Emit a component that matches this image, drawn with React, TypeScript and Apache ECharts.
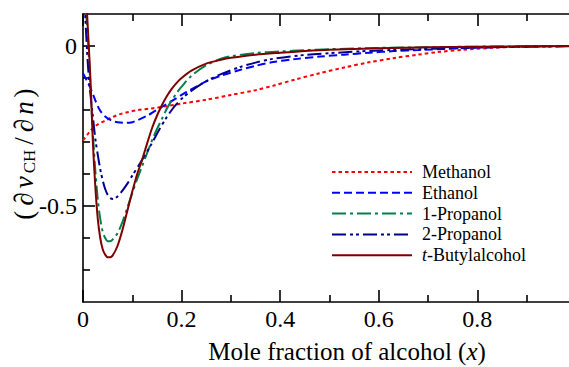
import React, { useEffect, useRef } from "react";
import * as echarts from "echarts";

const FONT = "Liberation Serif";

const seriesNames = ["Methanol", "Ethanol", "1-Propanol", "2-Propanol", "t-Butylalcohol"];

const methanolX = [0, 0.005, 0.01, 0.015, 0.02, 0.03, 0.045, 0.06, 0.075, 0.09, 0.112, 0.14, 0.17, 0.2, 0.25, 0.3, 0.35, 0.386, 0.43, 0.48, 0.53, 0.58, 0.63, 0.68, 0.72, 0.77, 0.84, 0.9, 0.986];
const methanolY = [-0.295, -0.285, -0.275, -0.265, -0.257, -0.245, -0.233, -0.222, -0.213, -0.207, -0.2, -0.195, -0.188, -0.18, -0.168, -0.153, -0.138, -0.124, -0.105, -0.085, -0.067, -0.051, -0.038, -0.027, -0.019, -0.012, -0.005, -0.002, 0];

const ethanolX = [0, 0.005, 0.01, 0.014, 0.02, 0.025, 0.034, 0.045, 0.058, 0.07, 0.089, 0.1, 0.112, 0.13, 0.149, 0.166, 0.183, 0.2, 0.217, 0.251, 0.28, 0.318, 0.35, 0.386, 0.43, 0.481, 0.53, 0.582, 0.63, 0.684, 0.75, 0.8, 0.9, 0.986];
const ethanolY = [-0.085, -0.1, -0.115, -0.128, -0.15, -0.17, -0.2, -0.22, -0.233, -0.238, -0.24, -0.238, -0.231, -0.218, -0.2, -0.185, -0.169, -0.153, -0.1375, -0.11, -0.093, -0.075, -0.062, -0.05, -0.041, -0.033, -0.027, -0.021, -0.016, -0.0125, -0.008, -0.005, -0.002, 0];

const propanol1X = [0, 0.005, 0.01, 0.015, 0.02, 0.025, 0.03, 0.035, 0.04, 0.045, 0.05, 0.055, 0.06, 0.07, 0.08, 0.09, 0.1, 0.11, 0.12, 0.13, 0.14, 0.15, 0.16, 0.17, 0.18, 0.19, 0.2, 0.22, 0.25, 0.28, 0.3, 0.35, 0.4, 0.45, 0.5, 0.6, 0.7, 0.8, 0.9, 0.986];
const propanol1Y = [0.5, 0.15, 0.02, -0.12, -0.27, -0.39, -0.48, -0.54, -0.58, -0.6, -0.61, -0.61, -0.605, -0.585, -0.55, -0.505, -0.46, -0.415, -0.375, -0.335, -0.295, -0.26, -0.228, -0.196, -0.17, -0.147, -0.127, -0.093, -0.06, -0.04, -0.032, -0.022, -0.017, -0.013, -0.01, -0.006, -0.004, -0.002, -0.001, 0];

const propanol2X = [0, 0.005, 0.01, 0.015, 0.02, 0.025, 0.03, 0.035, 0.04, 0.045, 0.05, 0.055, 0.061, 0.07, 0.08, 0.09, 0.1, 0.116, 0.13, 0.14, 0.156, 0.17, 0.18, 0.19, 0.2, 0.217, 0.25, 0.28, 0.318, 0.35, 0.386, 0.45, 0.515, 0.6, 0.684, 0.8, 0.9, 0.986];
const propanol2Y = [0.25, 0.08, -0.06, -0.15, -0.22, -0.29, -0.34, -0.385, -0.42, -0.447, -0.465, -0.475, -0.478, -0.47, -0.452, -0.43, -0.405, -0.366, -0.33, -0.303, -0.258, -0.222, -0.2, -0.181, -0.165, -0.143, -0.11, -0.088, -0.066, -0.052, -0.04, -0.028, -0.021, -0.014, -0.01, -0.005, -0.002, -0.001];

const butylX = [0, 0.005, 0.01, 0.015, 0.02, 0.025, 0.03, 0.035, 0.04, 0.045, 0.05, 0.055, 0.06, 0.07, 0.08, 0.09, 0.1, 0.11, 0.12, 0.13, 0.14, 0.15, 0.16, 0.17, 0.18, 0.19, 0.2, 0.22, 0.25, 0.28, 0.3, 0.35, 0.4, 0.45, 0.5, 0.6, 0.7, 0.8, 0.9, 0.986];
const butylY = [0.45, 0.2, 0.05, -0.1, -0.3, -0.44, -0.54, -0.6, -0.635, -0.652, -0.66, -0.66, -0.655, -0.625, -0.575, -0.515, -0.455, -0.4, -0.355, -0.305, -0.257, -0.218, -0.185, -0.157, -0.134, -0.115, -0.1, -0.077, -0.055, -0.043, -0.037, -0.027, -0.021, -0.016, -0.012, -0.007, -0.004, -0.002, -0.001, 0];

const xMajorTicks = [0, 0.2, 0.4, 0.6, 0.8];
const xMinorTicks = [0.1, 0.3, 0.5, 0.7, 0.9];
const yMajorTicks = [0, -0.5];
const yMinorTicks = [-0.1, -0.2, -0.3, -0.4, -0.6, -0.7];

const colors = ["#ff0000", "#0000ff", "#00804a", "#00008b", "#800000"];
const dashes: any[] = [[3.5, 3], [8, 4], [14, 4, 3, 4], [14, 4, 3, 3, 3, 4], "solid"];

const zip = (xs: number[], ys: number[]) => xs.map((x, i) => [x, ys[i]]);

export default function App() {
  const ref = useRef<HTMLDivElement>(null);
  useEffect(() => {
    if (!ref.current) return;
    const chart = echarts.init(ref.current, null, { renderer: "svg" });
    const lineCol = "#000";
    const X_MAX = 0.986;
    const tickStyle = { color: lineCol, width: 1.6 };
    const baseX = {
      type: "value" as const,
      min: 0,
      max: X_MAX,
      splitLine: { show: false },
    };
    const baseY = {
      type: "value" as const,
      min: -0.8,
      max: 0.1,
      splitLine: { show: false },
    };
    const datasets = [
      zip(methanolX, methanolY),
      zip(ethanolX, ethanolY),
      zip(propanol1X, propanol1Y),
      zip(propanol2X, propanol2Y),
      zip(butylX, butylY),
    ];
    chart.setOption({
      animation: false,
      grid: { left: 83, right: 0, top: 14, bottom: 65, containLabel: false, outerBoundsMode: "none" },
      legend: {
        orient: "vertical",
        left: 331,
        top: 162,
        padding: 0,
        itemWidth: 80,
        itemHeight: 20,
        itemGap: 0.8,
        data: seriesNames,
        itemStyle: { opacity: 0 },
        textStyle: {
          fontFamily: FONT,
          fontSize: 18,
          color: "#000",
          lineHeight: 20,
          padding: [0, 0, 0, 5],
          rich: { i: { fontStyle: "italic", fontFamily: FONT, fontSize: 18, color: "#000" } },
        },
        formatter: (n: string) => (n === "t-Butylalcohol" ? "{i|t}-Butylalcohol" : n),
      },
      xAxis: [
        {
          ...baseX,
          position: "bottom",
          axisLine: { show: true, onZero: false, lineStyle: tickStyle },
          axisTick: { show: true, inside: true, length: 12, customValues: xMajorTicks, lineStyle: tickStyle },
          axisLabel: {
            customValues: xMajorTicks,
            formatter: (v: number) => (v === 0 ? "0" : v.toFixed(1)),
            fontFamily: FONT,
            fontSize: 24,
            color: "#000",
            margin: 5,
          },
          name: "Mole fraction of alcohol ({i|x})",
          nameLocation: "middle",
          nameGap: 38,
          nameTextStyle: {
            fontFamily: FONT,
            fontSize: 25,
            lineHeight: 22,
            color: "#000",
            padding: [0, 0, 0, 42],
            rich: { i: { fontStyle: "italic", fontFamily: FONT, fontSize: 25, lineHeight: 22, color: "#000" } },
          },
        },
        {
          ...baseX,
          position: "bottom",
          axisLine: { show: false, onZero: false },
          axisTick: { show: true, inside: true, length: 7, customValues: xMinorTicks, lineStyle: tickStyle },
          axisLabel: { show: false },
        },
        {
          ...baseX,
          position: "top",
          axisLine: { show: true, onZero: false, lineStyle: tickStyle },
          axisTick: { show: true, inside: true, length: 12, customValues: xMajorTicks, lineStyle: tickStyle },
          axisLabel: { show: false },
        },
        {
          ...baseX,
          position: "top",
          axisLine: { show: false, onZero: false },
          axisTick: { show: true, inside: true, length: 7, customValues: xMinorTicks, lineStyle: tickStyle },
          axisLabel: { show: false },
        },
      ],
      yAxis: [
        {
          ...baseY,
          position: "left",
          axisLine: { show: true, onZero: false, lineStyle: tickStyle },
          axisTick: { show: true, inside: true, length: 12, customValues: yMajorTicks, lineStyle: tickStyle },
          axisLabel: {
            customValues: yMajorTicks,
            formatter: (v: number) => (v === 0 ? "0" : "-0.5"),
            fontFamily: FONT,
            fontSize: 24,
            color: "#000",
            margin: 6,
          },
          name: "{q|(}{d|\u2202}{i|\u03bd}{s|CH}{p|/}{d|\u2202}{i|n}{p|)}",
          nameLocation: "middle",
          nameRotate: 90,
          nameGap: 45,
          nameMoveOverlap: false,
          nameTextStyle: {
            fontFamily: FONT,
            fontSize: 27,
            color: "#000",
            rich: {
              q: { fontFamily: FONT, fontSize: 27, color: "#000", lineHeight: 28, padding: [0, 2, 0, 10] },
              p: { fontFamily: FONT, fontSize: 27, color: "#000", lineHeight: 28, padding: [0, 2, 0, 2] },
              d: { fontFamily: FONT, fontSize: 27, color: "#000", lineHeight: 28, padding: [0, 3, 0, 3] },
              i: { fontFamily: FONT, fontSize: 27, fontStyle: "italic", color: "#000", lineHeight: 28, padding: [0, 2, 0, 1] },
              s: { fontFamily: FONT, fontSize: 17, color: "#000", verticalAlign: "bottom", lineHeight: 17, padding: [0, 3, 0, 1] },
            },
          },
        },
        {
          ...baseY,
          position: "left",
          axisLine: { show: false, onZero: false },
          axisTick: { show: true, inside: true, length: 7, customValues: yMinorTicks, lineStyle: tickStyle },
          axisLabel: { show: false },
        },
      ],
      series: seriesNames.map((name, i) => ({
        name,
        type: "line",
        xAxisIndex: 0,
        yAxisIndex: 0,
        data: datasets[i],
        symbol: "none",
        smooth: 0.3,
        clip: true,
        lineStyle: { color: colors[i], width: 2, type: dashes[i] },
        itemStyle: { color: colors[i] },
      })),
    });
    return () => chart.dispose();
  }, []);
  return (
    <div
      ref={ref}
      style={{ position: "fixed", left: 0, top: 0, width: 569, height: 367, background: "#fff" }}
    />
  );
}
